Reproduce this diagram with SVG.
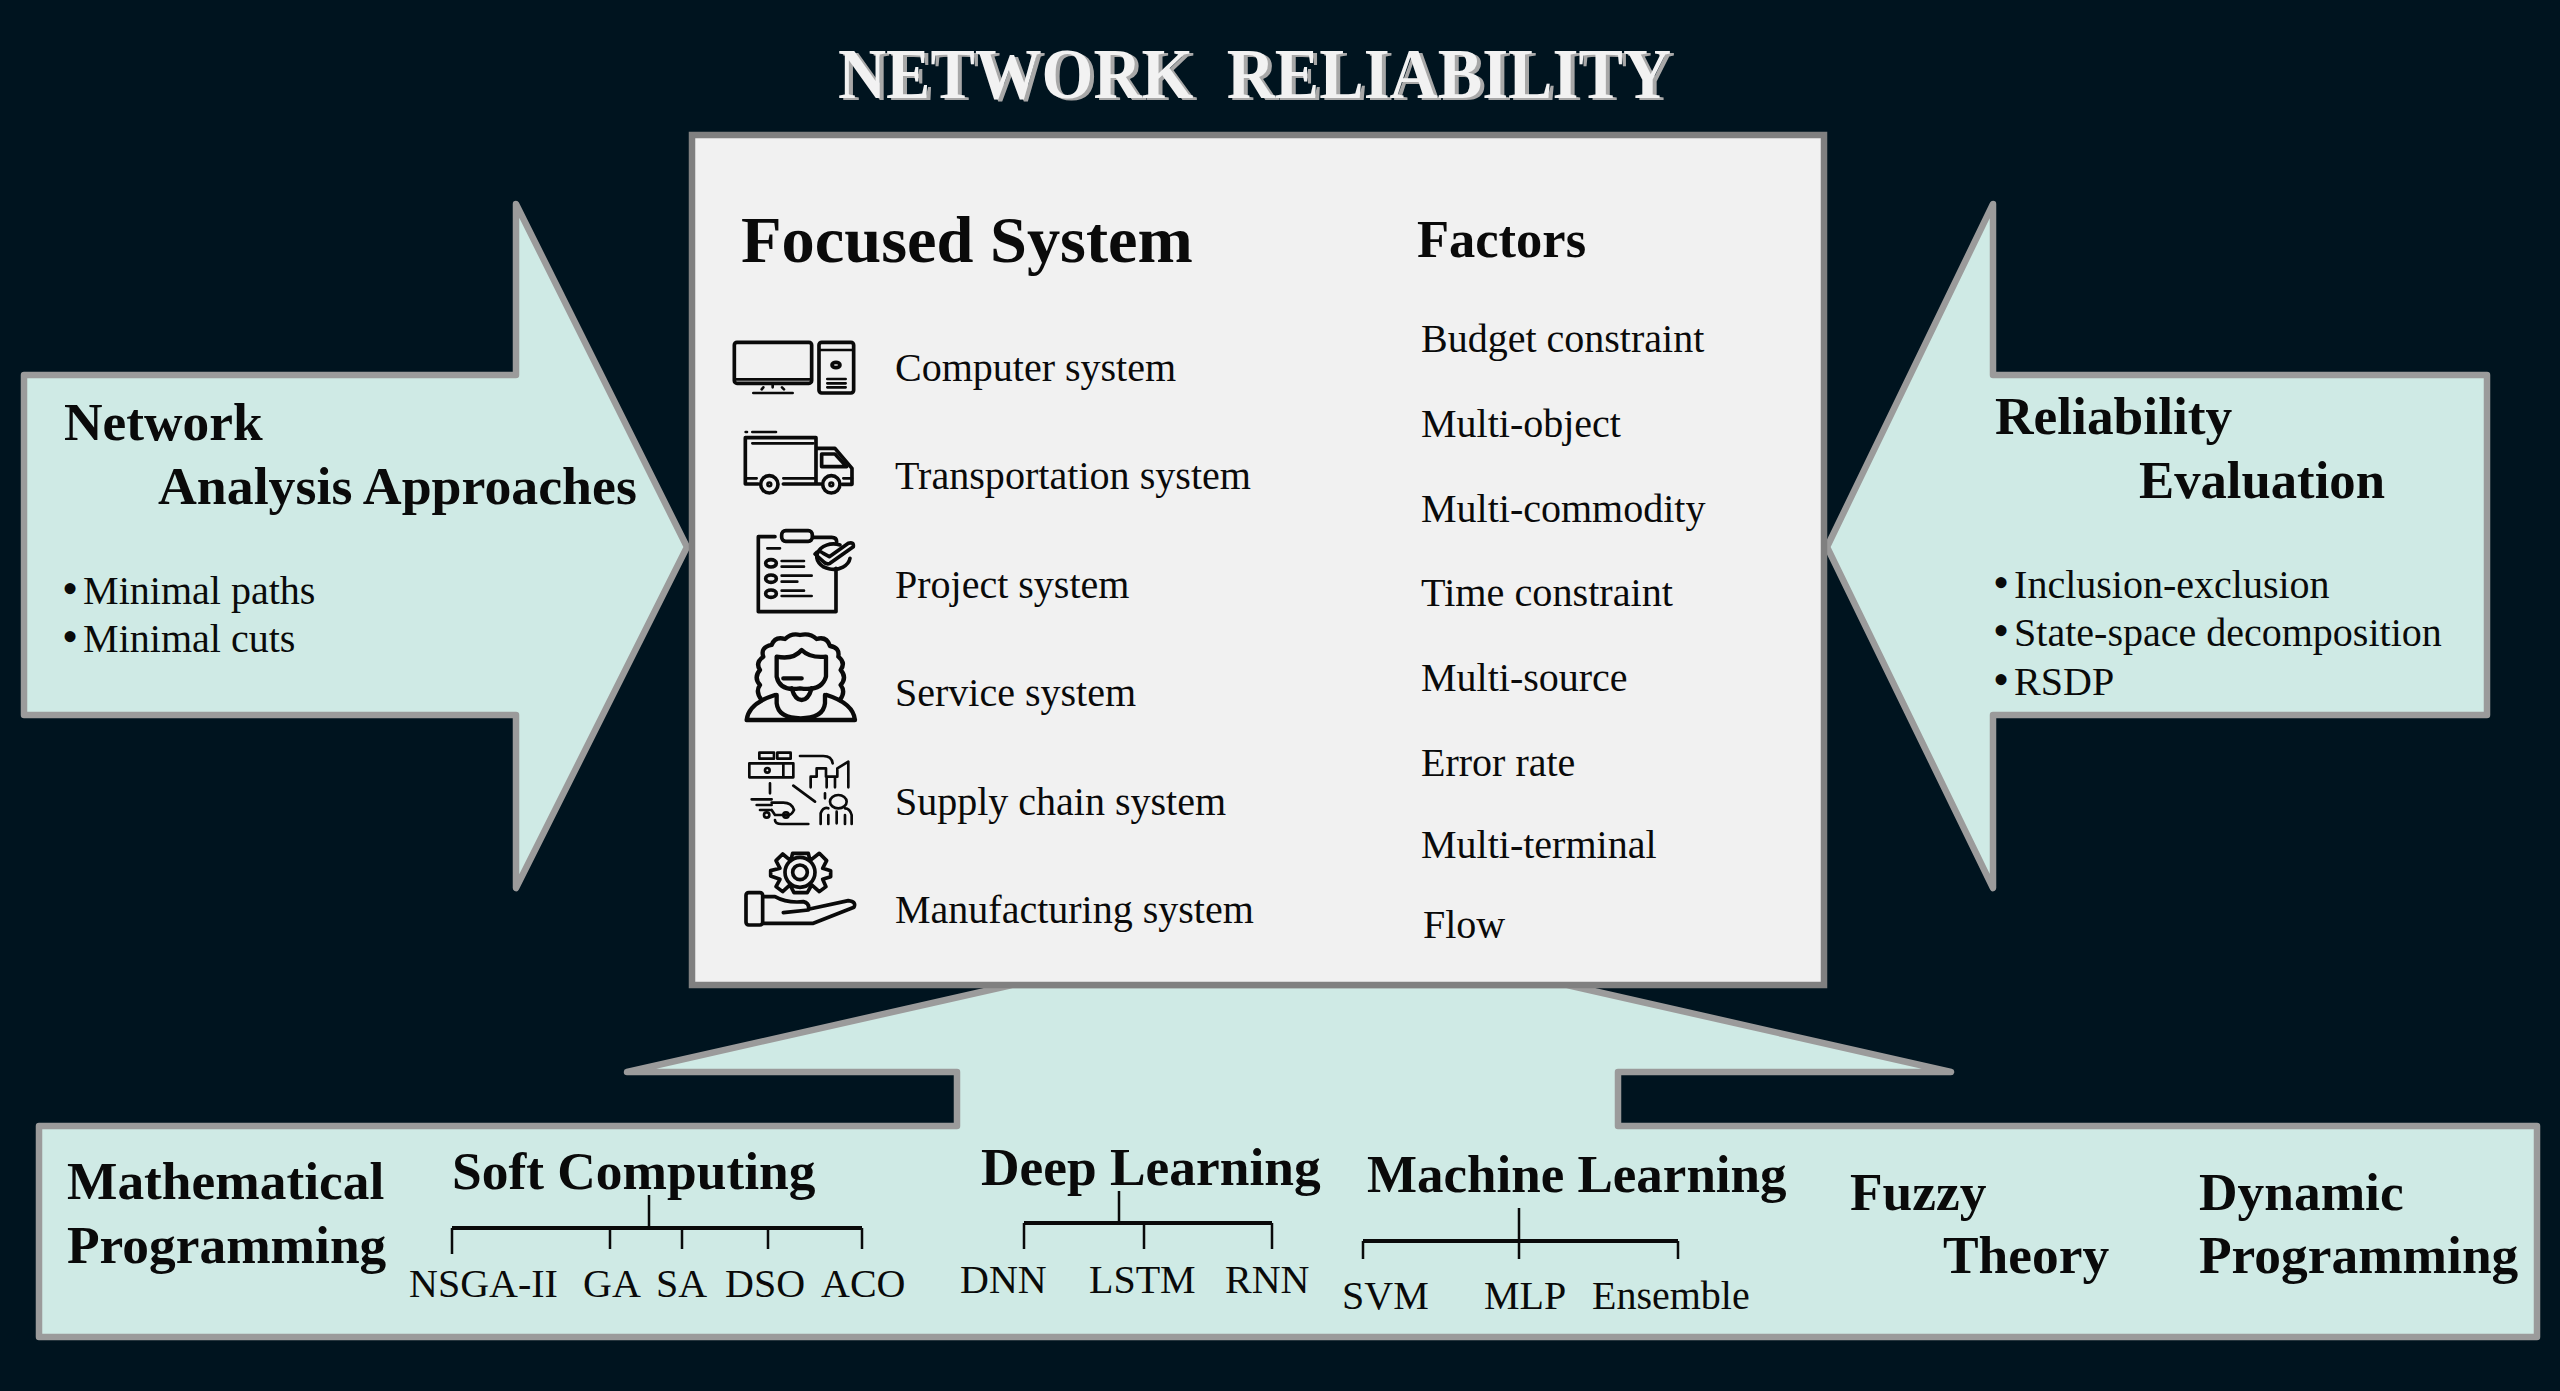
<svg xmlns="http://www.w3.org/2000/svg" width="2560" height="1391" viewBox="0 0 2560 1391">
<style>
text{font-family:"Liberation Serif","Times New Roman",serif;fill:#0a0a0a}
.b{font-weight:bold}
.h1{font-weight:bold;font-size:53.4px}
.h2{font-weight:bold;font-size:53.4px}
.t{font-size:40px}
.s{font-size:40px}
.bu{font-size:46px}
.shape{fill:#cfeae5;stroke:#9b9b9b;stroke-width:6.5;stroke-linejoin:round}
.tree{fill:none;stroke:#0a0a0a;stroke-width:2.5}
.tree .bar{stroke-width:4}
.ic{fill:none;stroke:#0a0a0a;stroke-width:11;stroke-linecap:round;stroke-linejoin:round}
.ic .thin{stroke-width:8}
</style>
<rect width="2560" height="1391" fill="#00141f"/>
<g id="title">
<text x="842" y="100" font-size="71" font-weight="bold" style="fill:#a8a8a8" xml:space="preserve" textLength="833" lengthAdjust="spacingAndGlyphs">NETWORK  RELIABILITY</text>
<text x="838" y="98" font-size="71" font-weight="bold" style="fill:#f2f2f2" xml:space="preserve" textLength="833" lengthAdjust="spacingAndGlyphs">NETWORK  RELIABILITY</text>
</g>
<g id="approaches">
<path class="shape" d="M24 375H516V204L687 547L516 888V715H24Z"/>
<text x="64" y="440" class="h1">Network</text>
<text x="158" y="504" class="h1" style="font-size:53.8px">Analysis Approaches</text>
<text x="62" y="604" class="t"><tspan class="bu">•</tspan><tspan dx="5">Minimal paths</tspan></text>
<text x="62" y="652" class="t"><tspan class="bu">•</tspan><tspan dx="5">Minimal cuts</tspan></text>
</g>
<g id="evaluation">
<path class="shape" d="M2487 375H1993V204L1827 547L1993 888V715H2487Z"/>
<text x="1995" y="434" class="h1">Reliability</text>
<text x="2139" y="498" class="h1" style="font-size:52.7px">Evaluation</text>
<text x="1993" y="598" class="t"><tspan class="bu">•</tspan><tspan dx="5">Inclusion-exclusion</tspan></text>
<text x="1993" y="646" class="t"><tspan class="bu">•</tspan><tspan dx="5">State-space decomposition</tspan></text>
<text x="1993" y="695" class="t"><tspan class="bu">•</tspan><tspan dx="5">RSDP</tspan></text>
</g>
<g id="methods">
<path class="shape" d="M39 1126H957V1072H627L1012 985H1567L1951 1072H1618V1126H2537V1337H39Z"/>
<text x="67" y="1199" class="h2">Mathematical</text>
<text x="67" y="1263" class="h2">Programming</text>
<text x="452" y="1189" class="h2">Soft Computing</text>
<text x="981" y="1185" class="h2">Deep Learning</text>
<text x="1367" y="1192" class="h2" style="font-size:53px">Machine Learning</text>
<text x="1850" y="1210" class="h2">Fuzzy</text>
<text x="1943" y="1273" class="h2">Theory</text>
<text x="2199" y="1210" class="h2">Dynamic</text>
<text x="2199" y="1273" class="h2">Programming</text>
<text x="409" y="1297" class="s">NSGA-II</text>
<text x="583" y="1297" class="s">GA</text>
<text x="656" y="1297" class="s">SA</text>
<text x="725" y="1297" class="s">DSO</text>
<text x="821" y="1297" class="s">ACO</text>
<text x="960" y="1293" class="s">DNN</text>
<text x="1089" y="1293" class="s">LSTM</text>
<text x="1225" y="1293" class="s">RNN</text>
<text x="1342" y="1309" class="s">SVM</text>
<text x="1484" y="1309" class="s">MLP</text>
<text x="1592" y="1309" class="s">Ensemble</text>
</g>
<g id="connectors" class="tree">
<path class="bar" d="M452 1228H862"/>
<path d="M649 1195V1228M452 1228V1254M610 1228V1249M682 1228V1249M768 1228V1249M862 1228V1249"/>
<path class="bar" d="M1024 1223H1272"/>
<path d="M1119 1191V1223M1024 1223V1249M1144 1223V1249M1272 1223V1249"/>
<path class="bar" d="M1363 1241H1678"/>
<path d="M1519 1208V1259M1363 1241V1259M1678 1241V1259"/>
</g>
<g id="focused-system">
<rect x="692" y="135" width="1132" height="850" fill="#f1f1f1" stroke="#808080" stroke-width="6.5"/>
<text x="741" y="262" font-size="66.4" class="b">Focused System</text>
<text x="1417" y="257" font-size="52.5" class="b">Factors</text>
</g>
<g id="computer-system">
<g class="ic" transform="translate(700 300) scale(.3333)"><rect x="103" y="127" width="232" height="123" rx="8"/><path class="thin" d="M108 238H330M218 250V262M190 262L185 268M246 262L252 268M160 279H278"/><rect x="357" y="127" width="104" height="152" rx="8"/><path class="thin" d="M360 150H458M382 237H437M382 250H437M382 262H437"/><ellipse cx="408" cy="195" rx="12" ry="8"/></g>
<text x="895" y="381" class="t">Computer system</text>
</g>
<g id="transportation-system">
<g class="ic" transform="translate(700 300) scale(.3333)"><path d="M175 552H136V413H348V552H250M348 445H405L456 505V553H427M348 552H362"/><path class="thin" d="M137 396H141M157 396H228M157 430H340M136 535H170M250 535H342M430 535H456"/><path d="M365 462H405L440 500H365Z" /><circle cx="208" cy="553" r="26"/><circle cx="394" cy="553" r="26"/><circle cx="208" cy="553" r="4"/><circle cx="394" cy="553" r="4"/></g>
<text x="895" y="489" textLength="356" lengthAdjust="spacingAndGlyphs" class="t">Transportation system</text>
</g>
<g id="project-system">
<g class="ic" transform="translate(700 300) scale(.3333)"><path d="M225 710H175V935H408V805M340 712H395Q410 712 410 725"/><rect x="245" y="692" width="92" height="32" rx="12"/><path class="thin" d="M202 745H240M245 783H312M245 800H312M245 827H335M245 845H292M245 872H312M245 888H335"/><ellipse cx="213" cy="790" rx="16" ry="11"/><ellipse cx="213" cy="836" rx="16" ry="11"/><ellipse cx="213" cy="881" rx="16" ry="11"/><path d="M420 735A50 38 0 1 0 450 775"/><path d="M345 762Q355 748 370 760L388 770L445 730Q462 725 460 740L390 790Q380 795 370 785Z"/></g>
<text x="895" y="598" class="t">Project system</text>
</g>
<g id="service-system">
<g class="ic" transform="translate(700 620) scale(.3333)" style="stroke-width:13"><path d="M185 240Q165 215 180 195Q160 172 180 150Q165 128 190 110Q180 82 215 75Q225 48 255 57Q275 38 300 45Q330 38 350 57Q380 48 390 78Q420 82 415 110Q438 128 422 150Q442 172 422 195Q438 215 420 240"/><path d="M140 300H465Q460 250 380 225M140 300Q145 250 225 225"/><path d="M230 225V250Q235 295 302 295Q370 295 375 250V225"/><path d="M230 110V170Q240 215 300 205Q365 215 378 170V110Q330 115 305 90Q280 120 230 110Z"/><path d="M250 175H305M275 205Q285 240 305 240Q325 240 335 205"/></g>
<text x="895" y="706" class="t">Service system</text>
</g>
<g id="supply-chain-system">
<g class="ic" transform="translate(700 620) scale(.3333)"><path class="thin" d="M148 430H280V472H148ZM178 398H222V416H178ZM232 398H272V416H232ZM250 430V472M300 408H370Q395 408 398 430M332 502V470H350V445H378V470H412V445L445 425V502M380 502V475M405 502V475M210 490V520M280 497L345 545M375 520V535M155 538H215M170 555H215M180 570H210M215 548H250Q275 548 282 570Q275 585 265 585H225L215 570M225 600Q225 612 245 612H325M362 612V580Q370 560 385 565M455 612V585Q450 565 435 565M385 612V585M435 612V585M410 575V610"/><ellipse cx="415" cy="545" rx="25" ry="20" class="thin"/><circle cx="202" cy="451" r="7" class="thin"/><circle cx="200" cy="585" r="8" class="thin"/><circle cx="258" cy="585" r="8" class="thin"/></g>
<text x="895" y="815" class="t">Supply chain system</text>
</g>
<g id="manufacturing-system">
<g class="ic" transform="translate(700 620) scale(.3333)"><path d="M278 700L325 700L330 722L358 700L380 722L368 745L392 752V770L368 778L378 800L358 815L335 795L322 818H282L270 795L248 815L228 800L240 778L212 768V752L240 745L228 722L248 702L272 722Z"/><circle cx="300" cy="757" r="45"/><circle cx="300" cy="757" r="22"/><rect x="138" y="818" width="50" height="97" rx="8"/><path d="M190 830H225Q260 850 310 845Q330 850 325 870L250 878M325 868L445 842Q470 845 462 862L340 910H190"/></g>
<text x="895" y="923" class="t">Manufacturing system</text>
</g>
<g id="factors">
<text x="1421" y="352" class="t">Budget constraint</text>
<text x="1421" y="437" class="t">Multi-object</text>
<text x="1421" y="522" class="t">Multi-commodity</text>
<text x="1421" y="606" textLength="252" lengthAdjust="spacingAndGlyphs" class="t">Time constraint</text>
<text x="1421" y="691" class="t">Multi-source</text>
<text x="1421" y="776" class="t">Error rate</text>
<text x="1421" y="858" class="t">Multi-terminal</text>
<text x="1423" y="938" class="t">Flow</text>
</g>
</svg>
